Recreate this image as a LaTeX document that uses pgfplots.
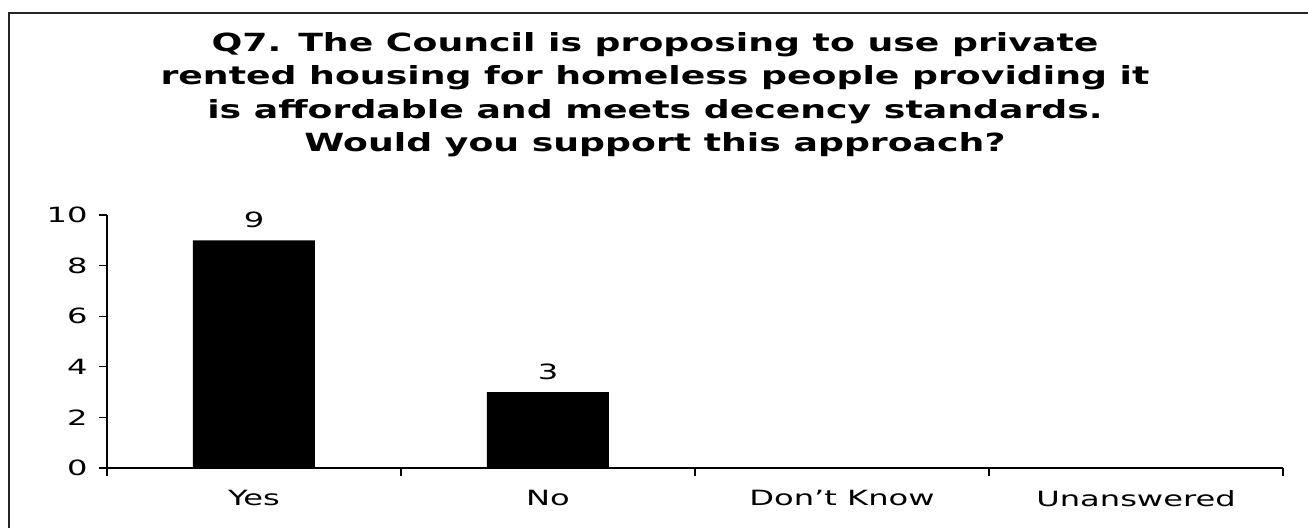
\documentclass[border=0pt]{standalone}
\usepackage{pgfplots}
\pgfplotsset{compat=1.18}
\usepackage{pgfplotstable}
\usepackage{graphicx}
\usepackage{fontspec}
\setmainfont{DejaVu Sans}
\newcommand\hs[1]{\scalebox{1.53}[1]{#1}}
\newcommand\htitle[1]{\scalebox{1.45}[1]{#1}}
\pgfplotstableread{
x y
0 9
1 3
2 0
3 0
}\datatable
\begin{document}
\begin{tikzpicture}
\path[use as bounding box] (-53.5pt,-29.5pt) rectangle (600.5pt,234pt);
\draw[line width=1pt, black!85] (-49pt,-40pt) -- (-49pt,227.5pt) -- (620pt,227.5pt);
\node[anchor=north, inner sep=0pt, font=\fontsize{12.5}{16.6}\selectfont\bfseries] at (274pt,220pt)
  {\htitle{\begin{tabular}{@{}c@{}}Q7. The Council is proposing to use private\\
  rented housing for homeless people providing it\\
  is affordable and meets decency standards.\\
  Would you support this approach?\end{tabular}}};
\begin{axis}[
  at={(0pt,0pt)}, anchor=south west,
  scale only axis, width=588pt, height=126.5pt,
  xmin=-0.5, xmax=3.5, ymin=0, ymax=10,
  axis lines=left, axis line style={-, line width=0.6pt, black},
  xtick={-0.5,0.5,1.5,2.5,3.5},
  x tick label as interval=true,
  xticklabels={\hs{Yes},\hs{No},\hs{Don’t Know},\hs{Unanswered}},
  ytick={0,2,4,6,8,10},
  yticklabel={\hs{\pgfmathprintnumber{\tick}}},
  tick align=outside,
  major tick length=4pt,
  tick style={line width=0.6pt, black},
  /pgf/number format/assume math mode=true,
  tick label style={font=\fontsize{10.5}{12}\selectfont},
  xticklabel style={anchor=north, inner sep=0pt, yshift=-7pt},
  yticklabel style={anchor=east, inner sep=0pt, xshift=-5.5pt},
  clip=false,
]
\addplot[ybar, bar width=61pt, fill=black, draw=none,
  visualization depends on={rawy \as \rawy},
  nodes near coords={\ifdim\rawy pt>0pt \hs{\pgfmathprintnumber{\rawy}}\fi},
  nodes near coords style={font=\fontsize{10.5}{12}\selectfont, anchor=south, inner sep=0pt, yshift=6pt},
] table[x=x,y=y] {\datatable};
\end{axis}
\end{tikzpicture}
\end{document}
